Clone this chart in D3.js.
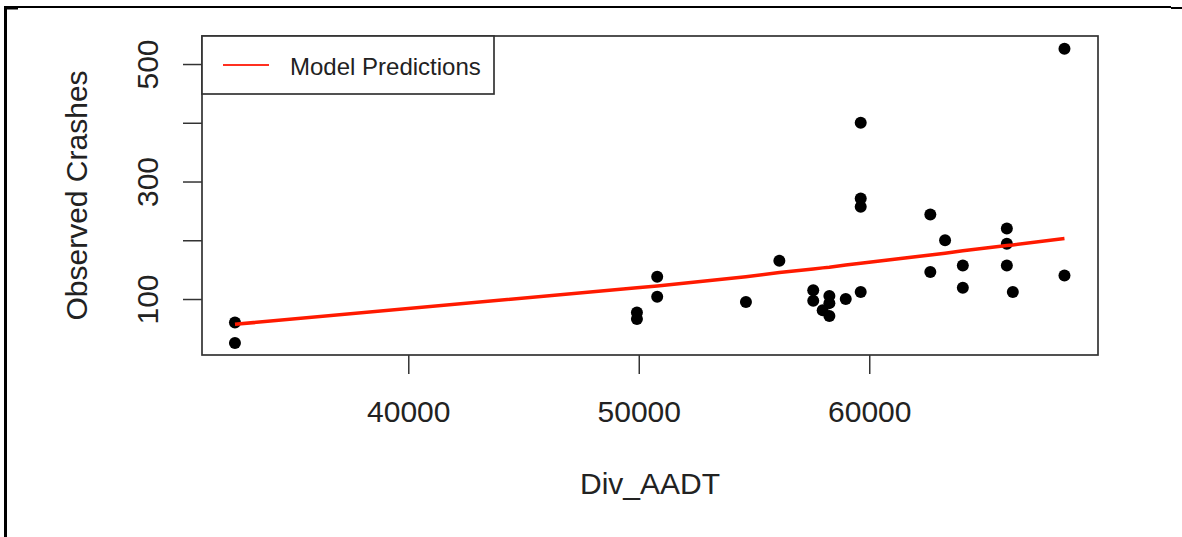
<html>
<head>
  <meta charset="utf-8">
  <script src="https://d3js.org/d3.v7.min.js"></script>
  <style>
    body { margin: 0; background: #fff; }
    text { font-family: "Liberation Sans", Arial, Helvetica, sans-serif; fill: #222; }
  </style>
</head>
<body>
  <script>
    /* observed crashes per site */
    var aadt = [32480, 32480, 49920, 49920, 50800, 50800, 54650, 56100,
                57570, 57570, 58270, 57980, 58270, 58270, 58980, 59630,
                59630, 59630, 59630, 62650, 62650, 63290, 64060, 64060,
                65970, 65970, 65970, 66230, 68470, 68470];
    var crashes = [60, 25, 77, 66, 138, 104, 95, 165,
                   115, 97, 105, 81, 93, 71, 100, 112,
                   400, 271, 257, 244, 146, 200, 157, 119,
                   220, 194, 157, 112, 140, 526];

    /* fitted model line, read at the sorted AADT values */
    var predX = [32480, 49920, 50800, 54650, 56100, 57570, 57980, 58270,
                 58980, 59630, 62650, 63290, 64060, 65970, 66230, 68470];
    var predY = [57, 119, 122, 138, 145, 151, 153, 154,
                 158, 161, 175, 178, 182, 191, 192, 203];

    var xTicks = [40000, 50000, 60000];
    var yTicks = [100, 200, 300, 400, 500];
    var yLabels = [100, 300, 500];   // R drops the ones that would overlap

    var W = 1182, H = 537;
    // plot region edges ("top" is taken by window.top, so prefixed names)
    var pL = 202, pR = 1098, pT = 36, pB = 355;

    var svg = d3.select("body").append("svg").attr("width", W).attr("height", H);

    /* outer frame of the screenshot */
    svg.append("line").attr("x1", 4).attr("x2", 1171).attr("y1", 7).attr("y2", 7)
      .attr("stroke", "#000").attr("stroke-width", 2);
    svg.append("line").attr("x1", 1171).attr("x2", 1182).attr("y1", 8).attr("y2", 8)
      .attr("stroke", "#000").attr("stroke-width", 2);
    svg.append("line").attr("x1", 5.5).attr("x2", 5.5).attr("y1", 6).attr("y2", H)
      .attr("stroke", "#000").attr("stroke-width", 3);
    svg.append("line").attr("x1", 5).attr("x2", 18).attr("y1", 8).attr("y2", 8)
      .attr("stroke", "#000").attr("stroke-width", 3);

    var x = d3.scaleLinear().domain([31050, 69925]).range([pL, pR]);
    var y = d3.scaleLinear().domain([4.7, 547.7]).range([pB, pT]);

    /* x axis */
    var gx = svg.append("g").attr("transform", "translate(0," + pB + ")")
      .call(d3.axisBottom(x).tickValues(xTicks).tickSize(19).tickFormat(d3.format("d")));
    gx.select(".domain").remove();
    gx.selectAll("line").attr("stroke", "#333").attr("stroke-width", 1.5);
    gx.selectAll("text").attr("y", 67).attr("dy", 0)
      .style("font-size", "30px").attr("fill", "#222");

    /* y axis */
    var gy = svg.append("g").attr("transform", "translate(" + pL + ",0)")
      .call(d3.axisLeft(y).tickValues(yTicks).tickSize(19));
    gy.select(".domain").remove();
    gy.selectAll("line").attr("stroke", "#333").attr("stroke-width", 1.5);
    gy.selectAll("text")
      .text(function(d) { return yLabels.indexOf(d) >= 0 ? d : ""; })
      .attr("transform", "rotate(-90)")
      .attr("x", 0).attr("y", -44).attr("dy", 0)
      .attr("text-anchor", "middle")
      .style("font-size", "30px").attr("fill", "#222");

    /* axis titles */
    svg.append("text").attr("x", (pL + pR) / 2).attr("y", 494)
      .attr("text-anchor", "middle").style("font-size", "30px").text("Div_AADT");
    svg.append("text")
      .attr("transform", "translate(87," + (pT + pB) / 2 + ") rotate(-90)")
      .attr("text-anchor", "middle").style("font-size", "30px").text("Observed Crashes");

    /* points */
    svg.append("g").selectAll("circle").data(aadt).enter().append("circle")
      .attr("cx", function(d) { return x(d); })
      .attr("cy", function(d, i) { return y(crashes[i]); })
      .attr("r", 6).attr("fill", "#000");

    /* model line */
    var line = d3.line()
      .x(function(d) { return x(d); })
      .y(function(d, i) { return y(predY[i]); });
    svg.append("path").attr("d", line(predX))
      .attr("fill", "none").attr("stroke", "#ff1a00").attr("stroke-width", 3.5);

    /* plot box */
    svg.append("rect").attr("x", pL).attr("y", pT)
      .attr("width", pR - pL).attr("height", pB - pT)
      .attr("fill", "none").attr("stroke", "#333").attr("stroke-width", 1.7);

    /* legend */
    var lg = svg.append("g");
    lg.append("rect").attr("x", pL).attr("y", pT).attr("width", 292).attr("height", 58)
      .attr("fill", "#fff").attr("stroke", "#333").attr("stroke-width", 1.7);
    lg.append("line").attr("x1", 223).attr("x2", 269).attr("y1", 65).attr("y2", 65)
      .attr("stroke", "#ff3020").attr("stroke-width", 2);
    lg.append("text").attr("x", 290).attr("y", 75).style("font-size", "24px")
      .text("Model Predictions");
  </script>
</body>
</html>
